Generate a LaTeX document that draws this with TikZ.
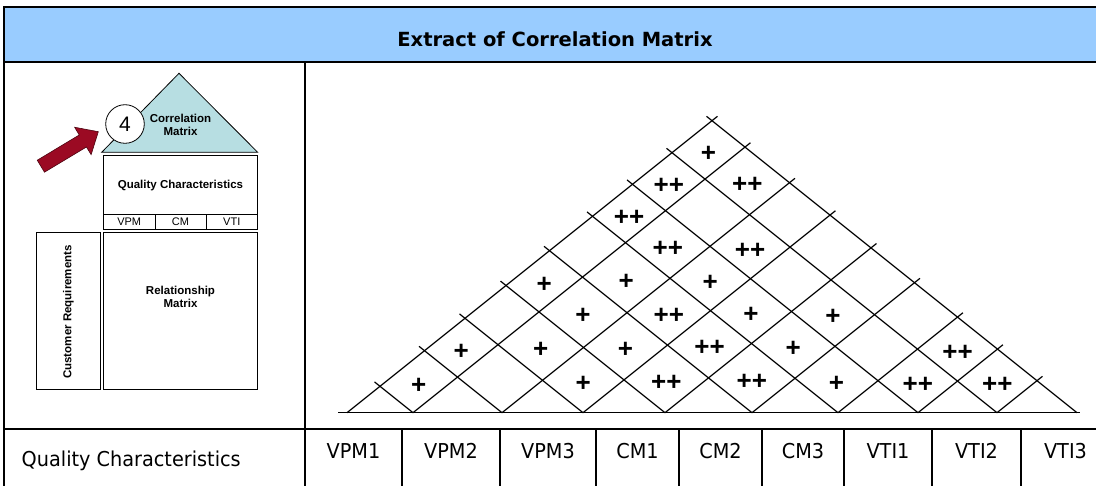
\documentclass[tikz,border=0pt]{standalone}
\usepackage{fontspec}
\setmainfont{DejaVu Sans}
\newfontfamily\arialfont{Liberation Sans}
\newfontfamily\tahomafont[FakeStretch=0.94]{DejaVu Sans}
\usetikzlibrary{calc}

\definecolor{titleblue}{RGB}{153,204,255}
\definecolor{roofteal}{RGB}{183,222,226}
\definecolor{arrowred}{RGB}{155,10,35}

\tikzset{
  frame/.style={line width=2pt},
  colline/.style={line width=1.6pt},
  housebox/.style={draw, line width=0.8pt},
  houselabel/.style={font=\arialfont\bfseries\fontsize{11.5}{13.5}\selectfont, align=center, inner sep=0pt},
  subcell/.style={font=\arialfont\fontsize{11}{11}\selectfont, inner sep=0pt},
  gridline/.style={line width=1.2pt, shorten >=-7pt},
  corrmark/.style={font=\arialfont\bfseries\fontsize{26}{26}\selectfont, inner sep=0pt},
  collabel/.style={font=\tahomafont\fontsize{20.5}{20.5}\selectfont, inner sep=0pt, anchor=base}
}

% x positions of the roof base points, left corner to right corner
\def\bx{{347,413,502,583,665,752,838,918,997,1077}}
\def\basey{412.7}
\def\slope{0.8}

\begin{document}
\begin{tikzpicture}[x=1pt, y=-1pt]
\useasboundingbox (0,0) rectangle (1096,486);
\clip (0,0) rectangle (1096,486);

% title row
\fill[titleblue] (4,7) rectangle (1096,62);
\node (title) [font=\bfseries\fontsize{19.5}{19.5}\selectfont] at (555,39) {Extract of Correlation Matrix};

% table frame
\draw[frame] (1096,7) -- (4,7) -- (4,486);
\draw[frame] (4,62) -- (1096,62);
\draw[frame] (305,62) -- (305,486);
\draw[frame] (4,429) -- (1096,429);

% bottom row
\node (qclabel) [collabel, anchor=base west] at (21.5,466.7) {Quality Characteristics};
\foreach \name/\xa/\xb in {VPM1/305/402, VPM2/402/500, VPM3/500/596, CM1/596/679, CM2/679/762,
                           CM3/762/844, VTI1/844/932, VTI2/932/1021, VTI3/1021/1110} {
  \draw[colline] (\xb,429) -- (\xb,486);
  \node (\name) [collabel] at ({(\xa+\xb)/2},458.3) {\name};
}

% house of quality
\filldraw[fill=roofteal, draw=black, line width=0.8pt] (101.7,152.3) -- (179,73.3) -- (257.7,152.3) -- cycle;
\node (roof) [houselabel] at (180.5,124.7) {Correlation\\Matrix};
\node (step) [circle, draw, fill=white, line width=0.8pt, minimum size=38.6pt, inner sep=0pt,
              font=\arialfont\fontsize{21}{21}\selectfont] at (125,124) {4};

\draw[housebox] (103.3,155) rectangle (257.7,214);
\node (qchar) [houselabel] at (180.5,186) {Quality Characteristics};
\draw[housebox] (103.3,214) rectangle (155,229.3);
\draw[housebox] (155,214) rectangle (206,229.3);
\draw[housebox] (206,214) rectangle (257.7,229.3);
\node (vpm) [subcell] at (129.2,222) {VPM};
\node (cm)  [subcell] at (180.5,222) {CM};
\node (vti) [subcell] at (231.8,222) {VTI};

\draw[housebox] (103.3,232) rectangle (257.7,389.3);
\node (relmat) [houselabel] at (180.5,297) {Relationship\\Matrix};
\draw[housebox] (36.7,232) rectangle (100,389.3);
\node (custreq) [houselabel, rotate=90] at (68.3,312) {Customer Requirements};

% red pointer
\begin{scope}[shift={(98.3,131.7)}, rotate=31]
  \filldraw[fill=arrowred, draw=black!50!arrowred, line width=0.6pt]
    (0,0) -- (-18,-16) -- (-18,-7) -- (-67,-7) -- (-67,7) -- (-18,7) -- (-18,16) -- cycle;
\end{scope}

% correlation roof
\draw[line width=1.5pt] (338,\basey) -- (1080,\basey);
\foreach \k in {0,...,8} {
  \pgfmathsetmacro\px{\bx[\k]}
  \pgfmathsetmacro\ex{(\px+1077)/2}
  \pgfmathsetmacro\ey{\basey-(1077-\px)/2*\slope}
  \draw[gridline] (\px,\basey) -- (\ex,\ey);
}
\foreach \k in {1,...,9} {
  \pgfmathsetmacro\px{\bx[\k]}
  \pgfmathsetmacro\ex{(\px+347)/2}
  \pgfmathsetmacro\ey{\basey-(\px-347)/2*\slope}
  \draw[gridline] (\px,\basey) -- (\ex,\ey);
}

% entries: column i / column j / strength
\foreach \i/\j/\m in {1/2/+, 3/4/+, 4/5/++, 5/6/++, 6/7/+, 7/8/++, 8/9/++,
                      1/3/+, 2/4/+, 3/5/+, 4/6/++, 5/7/+, 7/9/++,
                      2/5/+, 3/6/++, 4/7/+, 5/8/+,
                      1/5/+, 2/6/+, 3/7/+,
                      2/7/++, 3/8/++,
                      1/7/++,
                      1/8/++, 2/9/++,
                      1/9/+} {
  \pgfmathsetmacro\pa{\bx[\i-1]}
  \pgfmathsetmacro\pb{\bx[\i]}
  \pgfmathsetmacro\pc{\bx[\j-1]}
  \pgfmathsetmacro\pd{\bx[\j]}
  \pgfmathsetmacro\cx{(\pa+\pb+\pc+\pd)/4}
  \pgfmathsetmacro\cy{\basey-((\pc+\pd)-(\pa+\pb))/4*\slope+4}
  \node (m\i\j) [corrmark] at (\cx,\cy) {\m};
}
\end{tikzpicture}
\end{document}
